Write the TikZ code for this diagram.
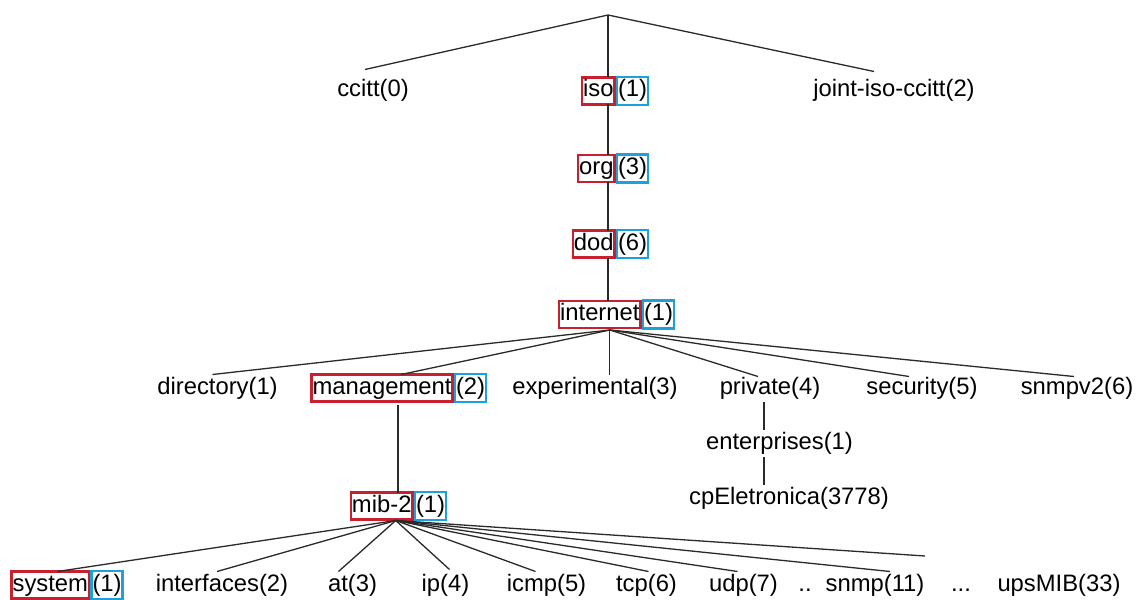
\documentclass[tikz,border=0pt]{standalone}
\usepackage{fontspec}
\setmainfont{Liberation Sans}
\definecolor{namered}{HTML}{C8202F}
\definecolor{numblue}{HTML}{1BA1DB}
\definecolor{treeline}{HTML}{2A2A2A}
\tikzset{
  lbl/.style={font=\fontsize{23.8}{28}\selectfont, inner xsep=1pt, inner ysep=2.5pt,
              text height=17pt, text depth=5pt, text=black, outer sep=0pt},
  namebox/.style={lbl, draw=namered, line width=2.5pt, fill=white, anchor=east},
  numbox/.style={lbl, draw=numblue, line width=2.5pt, fill=white, anchor=west,
                 inner ysep=3pt},
  edge/.style={draw=treeline, line width=1.3pt}
}
\begin{document}
\begin{tikzpicture}[x=1pt, y=-1pt]
\useasboundingbox[fill=white] (0,0) rectangle (1139,599);

% root of the OID tree
\coordinate (root) at (608,15);

% first level
\node[lbl] (ccitt) at (373,91) {ccitt(0)};
\node[namebox] (iso) at (614.5,91) {iso};
\node[numbox] (ison) at (617,91) {(1)};
\node[lbl] (joint) at (894,91) {joint-iso-ccitt(2)};

% iso chain
\node[namebox] (org) at (614.5,168.5) {org};
\node[numbox] (orgn) at (617,168.5) {(3)};
\node[namebox] (dod) at (614.5,244) {dod};
\node[numbox] (dodn) at (617,244) {(6)};
\node[namebox] (inet) at (640.5,314.5) {internet};
\node[numbox] (inetn) at (643,314.5) {(1)};

% children of internet
\node[lbl] (dir) at (217.5,388) {directory(1)};
\node[namebox] (mgmt) at (452.5,388) {management};
\node[numbox] (mgmtn) at (455,388) {(2)};
\node[lbl] (exp) at (595,388) {experimental(3)};
\node[lbl] (priv) at (770,388) {private(4)};
\node[lbl] (sec) at (922,388) {security(5)};
\node[lbl] (snmpv) at (1077,388) {snmpv2(6)};

% private branch
\node[lbl] (ent) at (779.5,443) {enterprises(1)};
\node[lbl] (cpe) at (789,498) {cpEletronica(3778)};

% mib-2
\node[namebox] (mib) at (412.5,506) {mib-2};
\node[numbox] (mibn) at (415,506) {(1)};

% children of mib-2
\node[namebox] (sys) at (89,585) {system};
\node[numbox] (sysn) at (91.5,585) {(1)};
\node[lbl] (ifs) at (222,585) {interfaces(2)};
\node[lbl] (at) at (352.5,585) {at(3)};
\node[lbl] (ip) at (445.5,585) {ip(4)};
\node[lbl] (icmp) at (546.5,585) {icmp(5)};
\node[lbl] (tcp) at (646.5,585) {tcp(6)};
\node[lbl] (udp) at (743.5,585) {udp(7)};
\node[lbl] (dots2) at (805,585) {..};
\node[lbl] (snmp) at (875,585) {snmp(11)};
\node[lbl] (dots3) at (961,585) {...};
\node[lbl] (ups) at (1059,585) {upsMIB(33)};
\coordinate (more) at (925,556);

% connectors: top level
\path[edge] (root) -- ([xshift=-8pt,yshift=8pt]ccitt.north);
\path[edge] (root) -- ([xshift=-20pt,yshift=6pt]joint.north);
\path[edge] (root) -- (root |- iso.north);
\path[edge] (root |- iso.south) -- (root |- org.north);
\path[edge] (root |- org.south) -- (root |- dod.north);
\path[edge] (root |- dod.south) -- (root |- inet.north);

% connectors: internet fan
\coordinate (inetfan) at ([xshift=10pt,yshift=-2pt]inet.south);
\path[edge] (inetfan) -- ([xshift=-5pt]dir.north);
\path[edge] (inetfan) -- ([xshift=19pt]mgmt.north);
\path[edge] (inetfan) -- (inetfan |- exp.north);
\path[edge] (inetfan) -- ([xshift=-12pt,yshift=-2pt]priv.north);
\path[edge] (inetfan) -- ([xshift=-13pt,yshift=-2pt]sec.north);
\path[edge] (inetfan) -- ([xshift=-3pt,yshift=-2pt]snmpv.north);

% connectors: private branch
\path[edge] ([xshift=-6pt]priv.south) -- ([xshift=-6pt]priv.south |- ent.north);
\path[edge] ([xshift=-6pt]priv.south |- ent.south) -- ([xshift=-6pt]priv.south |- cpe.north);

% connectors: management to mib-2
\path[edge] ([xshift=16pt,yshift=-3pt]mgmt.south) -- ([xshift=16pt]mgmt.south |- mib.north);

% connectors: mib-2 fan
\coordinate (mibfan) at ([xshift=14pt,yshift=-1pt]mib.south);
\path[edge] (mibfan) -- ([xshift=7pt]sys.north);
\path[edge] (mibfan) -- ([xshift=-5pt]ifs.north);
\path[edge] (mibfan) -- ([xshift=-14pt]at.north);
\path[edge] (mibfan) -- ([xshift=4pt,yshift=2pt]ip.north);
\path[edge] (mibfan) -- ([xshift=-11pt]icmp.north);
\path[edge] (mibfan) -- ([xshift=2pt]tcp.north);
\path[edge] (mibfan) -- ([xshift=-6pt]udp.north);
\path[edge] (mibfan) -- ([xshift=15pt]snmp.north);
\path[edge] (mibfan) -- (more);
\end{tikzpicture}
\end{document}
